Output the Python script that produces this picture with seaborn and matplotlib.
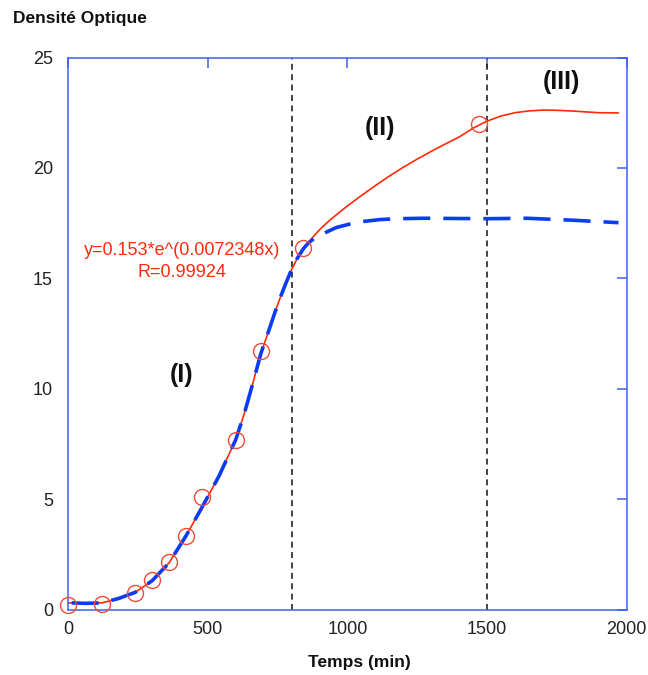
import matplotlib
matplotlib.use("Agg")
import matplotlib.pyplot as plt
import seaborn as sns

# Observed points (red circles)
t_obs = [0, 120, 240, 300, 360, 420, 480, 600, 690, 840, 1470]
od_obs = [0.2, 0.25, 0.76, 1.33, 2.16, 3.34, 5.1, 7.68, 11.7, 16.36, 21.98]

# Red smooth curve
t_red = [0, 60, 120, 180, 240, 300, 360, 420, 480, 540, 600, 630, 660, 690, 720, 740, 760,
         780, 800, 820, 840, 860, 880, 900, 925, 950, 975, 1000, 1050, 1100, 1150, 1200, 1250, 1300,
         1350, 1400, 1450, 1500, 1550, 1600, 1650, 1700, 1750, 1800, 1850, 1900, 1971]
od_red = [0.3, 0.28, 0.3, 0.5, 0.78, 1.3, 2.1, 3.3, 4.65, 6.05, 7.7, 8.85, 10.2, 11.6, 12.7, 13.45, 14.15,
          14.8, 15.4, 15.9, 16.3, 16.63, 16.92, 17.2, 17.5, 17.77, 18.03, 18.28, 18.75, 19.2, 19.63, 20.03,
          20.4, 20.75, 21.08, 21.4, 21.8, 22.12, 22.35, 22.5, 22.58, 22.62, 22.61, 22.58, 22.54, 22.5, 22.49]

# Blue dashed fitted curve
t_blue = [12, 60, 120, 180, 240, 300, 360, 420, 480, 540, 600, 630, 660, 690, 720, 740, 760,
          780, 800, 820, 842, 860, 880, 900, 926, 960, 1021, 1060, 1117, 1180, 1272, 1500,
          1643, 1810, 1971]
od_blue = [0.3, 0.28, 0.3, 0.5, 0.78, 1.3, 2.1, 3.3, 4.65, 6.05, 7.7, 8.85, 10.2, 11.6, 12.7, 13.45, 14.15,
           14.8, 15.4, 15.9, 16.34, 16.6, 16.8, 16.95, 17.1, 17.3, 17.5, 17.58, 17.66, 17.7, 17.72, 17.7,
           17.72, 17.63, 17.52]

phase_bounds = [800, 1500]
x_ticks = [0, 500, 1000, 1500, 2000]
y_ticks = [0, 5, 10, 15, 20, 25]
eq_text = "y=0.153*e^(0.0072348x)"
r_text = "R=0.99924"
phase_labels = ["(I)", "(II)", "(III)"]
phase_label_x = [405, 1118, 1767]
phase_label_y = [10.6, 21.82, 23.9]

sns.set_style("white")
plt.rcParams['font.family'] = ['Liberation Sans', 'DejaVu Sans']

RED = "#ff2a0a"
CIRC = "#ee4a38"
BLUE = "#0a3cf5"
AXC = "#4060ee"

fig = plt.figure(figsize=(6.48, 6.75), dpi=100)
ax = fig.add_axes([0.1054, 0.097, 0.8616, 0.8178])

for xb in phase_bounds:
    ax.axvline(xb, color="#111111", lw=1.1, ls=(0, (3.9, 2.9)), zorder=1)

sns.lineplot(x=t_red, y=od_red, color=RED, lw=1.2, sort=False, ax=ax, zorder=2)
sns.lineplot(x=t_blue, y=od_blue, color=BLUE, lw=2.6, sort=False, ax=ax, zorder=3)
ax.lines[-1].set_dashes([7.5, 3.6])
sns.lineplot(x=t_obs, y=od_obs, marker="o", linestyle="", markersize=11.5,
             markerfacecolor="none", markeredgecolor=CIRC, markeredgewidth=1.0,
             color=CIRC, sort=False, ax=ax, zorder=4, clip_on=False)

ax.text(406, 16.24, eq_text, color=RED, fontsize=13, ha="center", va="center")
ax.text(406, 15.28, r_text, color=RED, fontsize=13, ha="center", va="center")
for lab, lx, ly in zip(phase_labels, phase_label_x, phase_label_y):
    ax.text(lx, ly, lab, fontsize=18, fontweight="bold", ha="center", va="center",
            color="#111111")

ax.set_xlim(0, 2000)
ax.set_ylim(0, 25)
ax.set_xticks(x_ticks)
ax.set_yticks(y_ticks)
ax.set_xlabel("")
ax.set_ylabel("")
for sp in ax.spines.values():
    sp.set_visible(True)
    sp.set_color(AXC)
    sp.set_linewidth(1.1)
ax.tick_params(direction="in", length=7, width=1.1, color=AXC, top=True, right=True,
               labelsize=13, labelcolor="#222222")
ax.tick_params(axis="x", pad=8)
ax.tick_params(axis="y", pad=11)

fig.text(0.0196, 0.973, "Densité Optique", fontsize=12.5, fontweight="bold",
         ha="left", va="center", color="#111111")
fig.text(0.554, 0.0178, "Temps (min)", fontsize=12.5, fontweight="bold",
         ha="center", va="center", color="#111111")

fig.savefig("out.png", dpi=100)
